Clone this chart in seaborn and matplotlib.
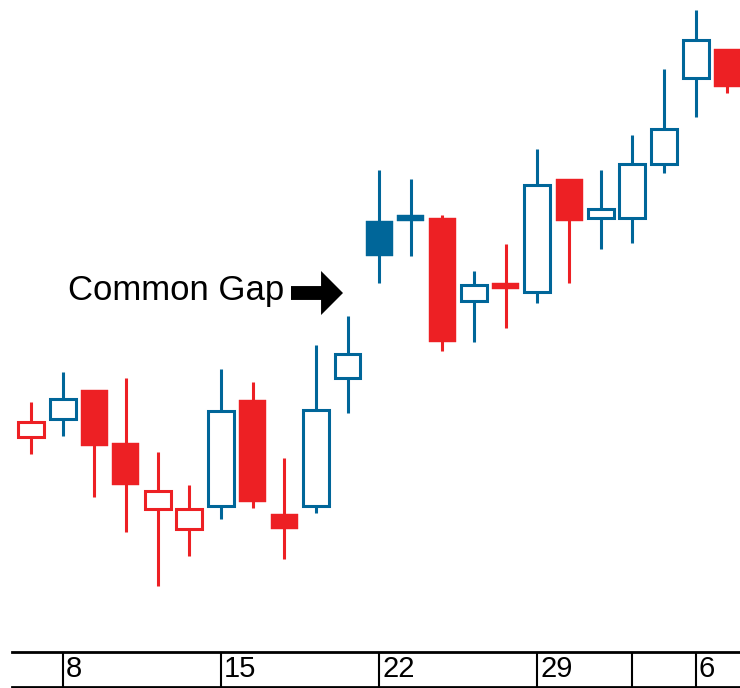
import matplotlib
matplotlib.use("Agg")
import matplotlib.pyplot as plt
import matplotlib.transforms as mtransforms
import numpy as np
import pandas as pd
import seaborn as sns

# ---------------- data ----------------
opens  = [60.65, 61.55, 63.10, 60.45, 57.05, 56.05, 57.20, 62.60, 56.90, 57.20, 63.60,
          71.55, 71.85, 71.70, 67.45, 68.45, 67.90, 73.65, 71.60, 71.60, 74.30, 78.60, 80.15]
highs  = [62.50, 64.00, 63.10, 63.70, 60.00, 58.35, 64.15, 63.50, 59.70, 65.35, 66.80,
          74.10, 73.65, 71.85, 69.05, 70.40, 75.15, 73.65, 74.10, 75.85, 79.15, 82.10, 80.15]
lows   = [59.90, 60.80, 57.75, 56.00, 53.30, 54.80, 56.65, 57.20, 54.65, 56.95, 61.95,
          68.45, 69.80, 65.05, 65.50, 66.20, 67.45, 68.45, 70.15, 70.45, 73.95, 76.75, 77.95]
closes = [61.60, 62.75, 60.30, 58.35, 58.15, 57.25, 62.15, 57.50, 56.15, 62.20, 65.00,
          69.80, 71.55, 65.50, 68.45, 68.15, 73.45, 71.55, 72.25, 74.50, 76.25, 80.70, 78.25]
first_direction = "down"
tick_positions = [1, 6, 11, 16, 19, 21]
tick_labels = ["8", "15", "22", "29", "", "6"]
annotation_text = "Common Gap"

df = pd.DataFrame({"open": opens, "high": highs, "low": lows, "close": closes})
df["idx"] = np.arange(len(df))
df["hollow"] = df["close"] > df["open"]
prev_close = df["close"].shift(1)
df["up"] = df["close"] >= prev_close
df.loc[0, "up"] = (first_direction == "up")

RED = "#ED2024"
BLUE = "#006699"

sns.set_theme(style="white")
plt.rcParams["font.family"] = ["Liberation Sans", "DejaVu Sans"]

W, H = 740, 688
fig = plt.figure(figsize=(W / 100, H / 100), dpi=100)
fig.patch.set_facecolor("white")

# main candle axes: pixel rows 0..652
plot_bottom_px = 652
ax = fig.add_axes([0, (H - plot_bottom_px) / H, 1, plot_bottom_px / H])
px_per_unit = 31.65
x0_px = 31.0
ax.set_xlim((0 - x0_px) / px_per_unit, (W - x0_px) / px_per_unit)
ax.set_ylim(50.0, 50.0 + plot_bottom_px / 20.0)
ax.set_axis_off()

lw_pt = 2.2
lw_px = lw_pt * 100 / 72
y_per_px = 1 / 20.0
inset_y = (lw_px / 2) * y_per_px

colors = np.where(df["up"], BLUE, RED)

# wicks
ax.vlines(df["idx"], df["low"], df["high"], colors=colors, linewidth=lw_pt, zorder=1)

# bodies
for _, r in df.iterrows():
    c = BLUE if r["up"] else RED
    lo, hi = min(r["open"], r["close"]), max(r["open"], r["close"])
    if r["hollow"]:
        ax.bar(r["idx"], (hi - lo) - 2 * inset_y, bottom=lo + inset_y, width=0.82,
               facecolor="white", edgecolor=c, linewidth=lw_pt, zorder=2)
    else:
        ax.bar(r["idx"], hi - lo, bottom=lo, width=0.85,
               facecolor=c, edgecolor=c, linewidth=0.3, zorder=2)

# annotation
def px2x(px):
    return (px - x0_px) / px_per_unit

def py2y(py):
    return 50.0 + (plot_bottom_px - py) / 20.0

ax.text(px2x(68), py2y(300), annotation_text, fontsize=25, color="black",
        ha="left", va="baseline")
ax.annotate("", xy=(px2x(343), py2y(293)), xytext=(px2x(291), py2y(293)),
            arrowprops=dict(arrowstyle="simple,head_length=1.58,head_width=3.17,tail_width=1.0",
                            mutation_scale=10, color="black", shrinkA=0, shrinkB=0, lw=0))

# date strip
strip_left_px = 12
strip_top_px = 652
strip_bot_px = 687
axs = fig.add_axes([strip_left_px / W, (H - strip_bot_px) / H,
                    (W - strip_left_px) / W, (strip_bot_px - strip_top_px) / H])
axs.set_xlim((strip_left_px - x0_px) / px_per_unit, (W - x0_px) / px_per_unit)
axs.set_ylim(0, 1)
axs.set_xticks([])
axs.set_yticks([])
axs.patch.set_alpha(0)
for s in ["left", "right"]:
    axs.spines[s].set_visible(False)
for s in ["top", "bottom"]:
    axs.spines[s].set_visible(True)
    axs.spines[s].set_color("black")
    axs.spines[s].set_linewidth(2.0)
for tp in tick_positions:
    axs.axvline(tp, color="black", linewidth=1.5)
trans = mtransforms.blended_transform_factory(axs.transData, axs.transAxes)
trans = mtransforms.offset_copy(trans, fig=fig, x=3, y=0, units="dots")
for tp, lab in zip(tick_positions, tick_labels):
    axs.text(tp, 0.29, lab, transform=trans, fontsize=21, ha="left", va="baseline",
             color="black", family=["Liberation Sans Narrow", "Liberation Sans", "DejaVu Sans"])

fig.savefig("out.png", dpi=100, facecolor="white")
